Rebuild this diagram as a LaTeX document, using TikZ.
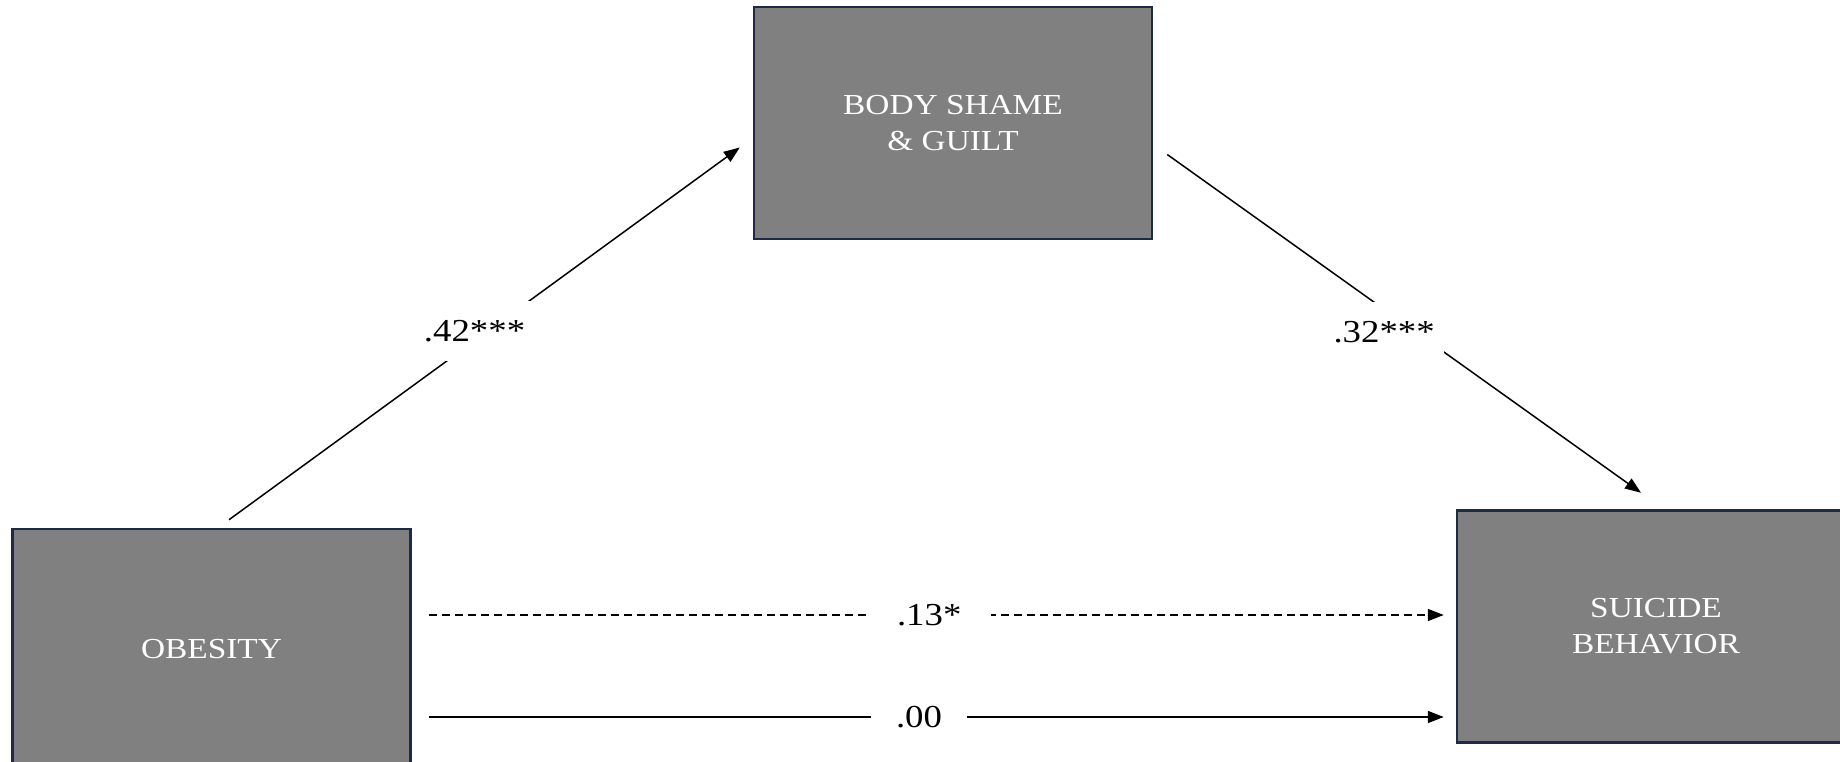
\documentclass[tikz,border=0pt]{standalone}
\usepackage{fontspec}
\setmainfont[FakeStretch=1.15]{Liberation Serif}
\usepackage{xcolor}
\usepackage{tikz}
\usetikzlibrary{positioning,arrows.meta}

\definecolor{boxgray}{RGB}{128,128,128}
\definecolor{boxedge}{RGB}{30,42,72}

\begin{document}
\begin{tikzpicture}[
    x=1pt, y=1pt,
    var/.style={
        draw=boxedge,
        line width=2.5pt,
        fill=boxgray,
        text=white,
        minimum width=398pt,
        minimum height=232pt,
        align=center,
        font=\fontsize{29pt}{36pt}\selectfont,
    },
    path/.style={-{Triangle[length=16pt,width=12pt]}, line width=1.5pt},
    coef/.style={fill=white, inner ysep=19pt, inner xsep=9pt,
        font=\fontsize{32pt}{38pt}\selectfont},
]
\useasboundingbox (0,0) rectangle (1840,761);

% ----- Variables -----
\node[var, minimum height=240pt] (obesity) at (211.5,112) {OBESITY};
\node[var, above right=287.5pt and 341pt of obesity] (shame) {BODY SHAME\\\& GUILT};
\node[var, right=1044pt of obesity, yshift=22.5pt] (suicide) {SUICIDE\\BEHAVIOR};

% ----- Path ends -----
\coordinate (a0) at ([shift={(17.5,8)}]obesity.north);
\coordinate (a1) at ([shift={(-13,-24.5)}]shame.west);
\coordinate (b0) at ([shift={(14,-31.5)}]shame.east);
\coordinate (b1) at ([shift={(-15,16.5)}]suicide.north);
\coordinate (c0) at ([shift={(17,34)}]obesity.east);
\coordinate (c1) at ([shift={(-12,11.5)}]suicide.west);
\coordinate (d0) at ([shift={(17,-68)}]obesity.east);
\coordinate (d1) at ([shift={(-12,-90.5)}]suicide.west);

% ----- Paths -----
\draw[path] (a0) -- (a1)
    node[coef, pos=0.52, xshift=-20pt, yshift=-5pt] {.42***};
\draw[path] (b0) -- (b1)
    node[coef, pos=0.5, xshift=-20pt, yshift=-8.5pt] {.32***};
\draw[path, dash pattern=on 8pt off 5pt, line width=1.6pt] (c0) -- (c1)
    node[coef, pos=0.497, inner ysep=13pt, inner xsep=30pt, xshift=-4pt] {.13*};
\draw[path, line width=1.8pt] (d0) -- (d1)
    node[coef, pos=0.483, inner ysep=13pt, inner xsep=25pt] {.00};

\end{tikzpicture}
\end{document}
